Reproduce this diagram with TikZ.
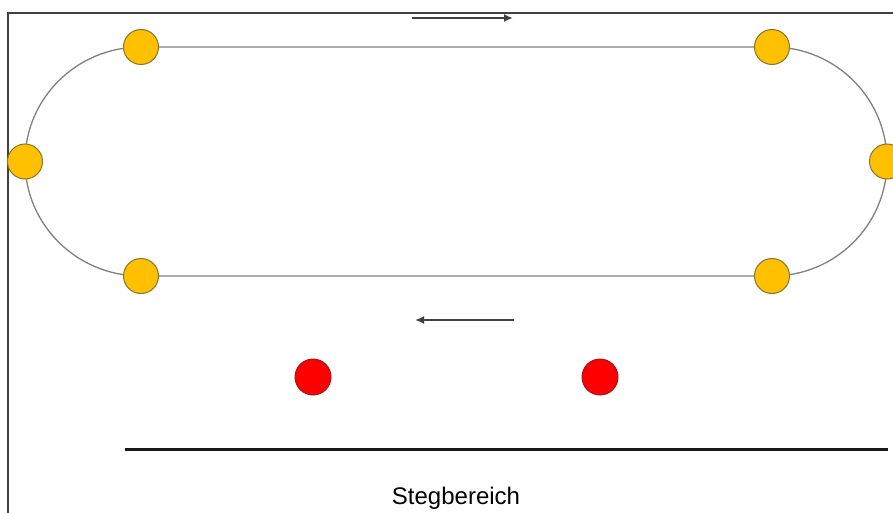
\documentclass[tikz,border=0pt]{standalone}
\usepackage{fontspec}
\setmainfont{Liberation Sans}
\usetikzlibrary{arrows.meta}
\definecolor{post}{HTML}{FFC000}
\definecolor{postborder}{HTML}{8C7328}
\definecolor{buoy}{HTML}{FF0000}
\definecolor{buoyborder}{HTML}{9E1A1A}
\definecolor{track}{HTML}{808080}
\begin{document}
\begin{tikzpicture}[x=1pt,y=-1pt,
  postnode/.style={circle,fill=post,draw=postborder,line width=1pt,minimum size=35pt,inner sep=0pt},
  buoynode/.style={circle,fill=buoy,draw=buoyborder,line width=1pt,minimum size=36pt,inner sep=0pt},
  trackline/.style={draw=track,line width=1.3pt},
  dirarrow/.style={draw=black!75,line width=1.7pt,-{Latex[length=9pt,width=8pt]}},
  framestyle/.style={draw=black!75,line width=2pt}]
\useasboundingbox (0,0) rectangle (893,513);
% frame
\draw[framestyle] (893,13) -- (8,13) -- (8,514);
% track
\coordinate (tl) at (141,47);
\coordinate (tr) at (772,47);
\coordinate (bl) at (141,276);
\coordinate (br) at (772,276);
\draw[trackline] (tl) -- (tr) arc[start angle=-90,end angle=90,x radius=115,y radius=114.5] -- (bl) arc[start angle=90,end angle=270,x radius=116,y radius=114.5];
% posts
\node[postnode] (p1) at (tl) {};
\node[postnode] (p2) at (tr) {};
\node[postnode] (p3) at (bl) {};
\node[postnode] (p4) at (br) {};
\node[postnode] (p5) at (25,161.5) {};
\node[postnode] (p6) at (887,161.5) {};
% direction arrows
\coordinate (a1s) at (412,18);
\coordinate (a1e) at (513,18);
\coordinate (a2s) at (514,320);
\coordinate (a2e) at (415,320);
\draw[dirarrow] (a1s) -- (a1e);
\draw[dirarrow] (a2s) -- (a2e);
% buoys
\node[buoynode] (b1) at (313,377) {};
\node[buoynode] (b2) at (600,377) {};
% jetty line
\coordinate (j1) at (125,449);
\coordinate (j2) at (888,449);
\draw[line width=3pt,black!90] (j1) -- (j2);
\node[font=\fontsize{24}{28}\selectfont,inner sep=0pt] (label) at (456,498) {Stegbereich};
\end{tikzpicture}
\end{document}
